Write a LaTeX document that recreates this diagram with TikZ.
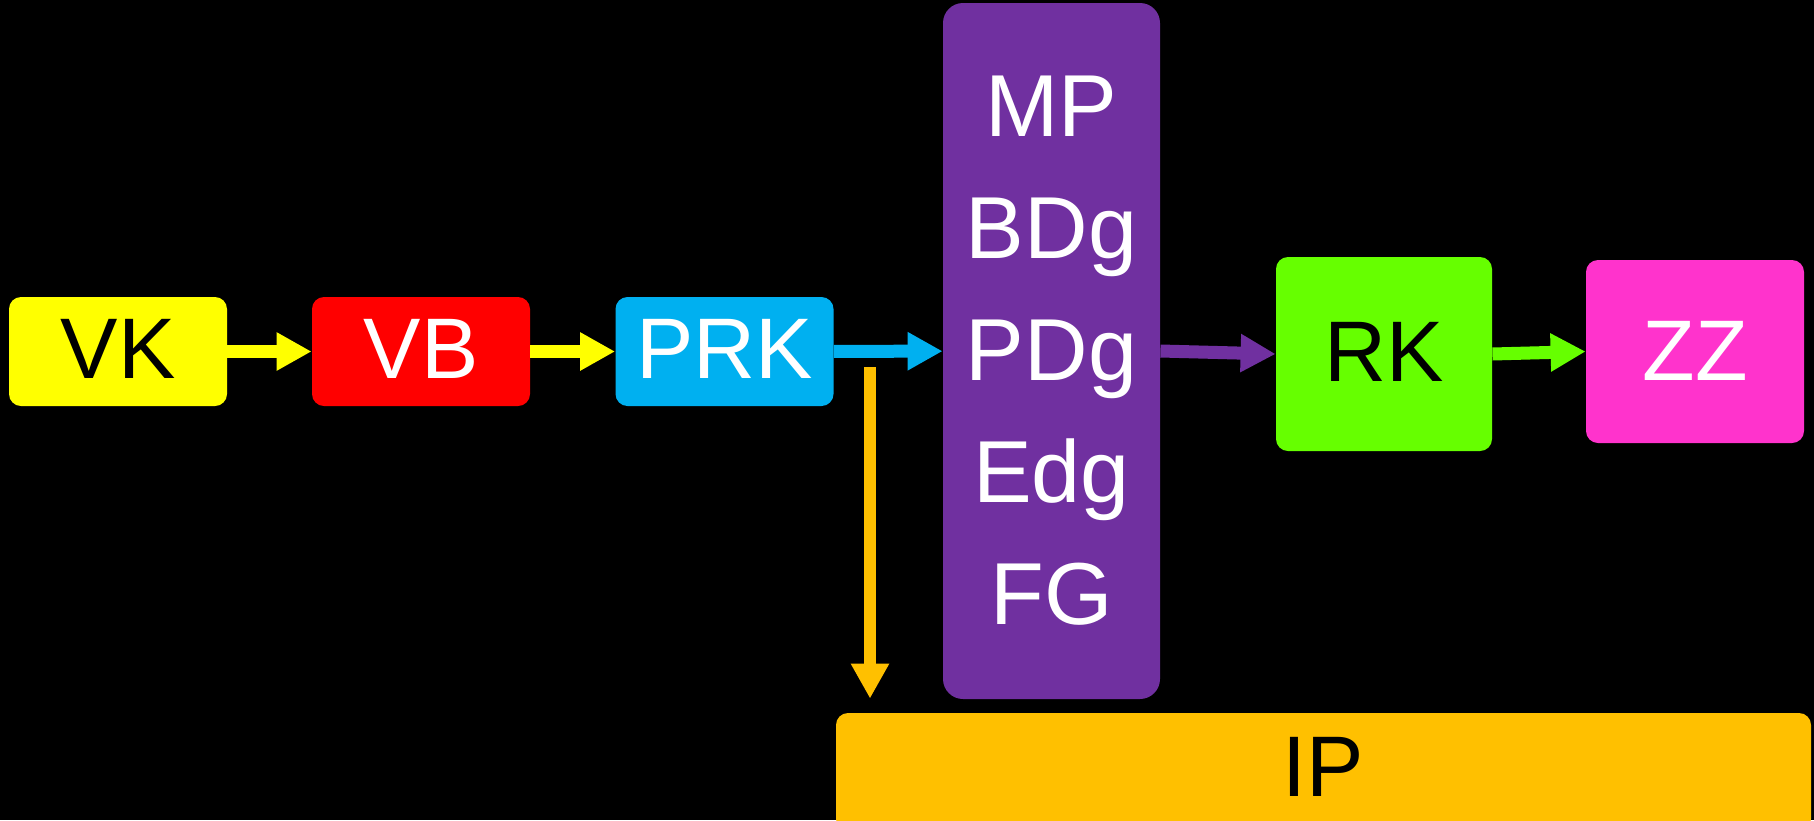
\documentclass[tikz,border=0pt]{standalone}
\usepackage{fontspec}
\setmainfont{Liberation Sans}
\usetikzlibrary{arrows.meta}
\definecolor{cyel}{HTML}{FFFF00}
\definecolor{cred}{HTML}{FF0000}
\definecolor{cblue}{HTML}{00B0F0}
\definecolor{cpurp}{HTML}{7030A0}
\definecolor{cgreen}{HTML}{66FF00}
\definecolor{cpink}{HTML}{FF33CC}
\definecolor{corange}{HTML}{FFC000}
\newcommand{\up}[1]{\raisebox{2.5pt}{#1}}
\begin{document}
\begin{tikzpicture}[x=0.5pt,y=-0.5pt,
  box/.style={rounded corners=6pt, inner sep=0pt, minimum width=109pt, minimum height=54.5pt, font=\fontsize{43}{50}\selectfont},
  arr/.style={line width=6.5pt, -{Triangle[width=18pt,length=17.5pt]}}]
\fill[black] (0,0) rectangle (1814,820);
\useasboundingbox (0,0) rectangle (1814,820);
\begin{scope}
\clip (0,0) rectangle (1814,820);
\node[box, fill=corange, text=black, minimum width=487.5pt, minimum height=59pt] (IP) at (1323.5,772) {\raisebox{5.5pt}{IP}};
\end{scope}
\node[box, fill=cyel, text=black] (VK) at (118,351.5) {\up{VK}};
\node[box, fill=cred, text=white] (VB) at (421,351.5) {\up{VB}};
\node[box, fill=cblue, text=white] (PRK) at (724.5,351.5) {\up{PRK}};
\node[box, fill=cpurp, text=white, rounded corners=10pt, minimum width=108.5pt, minimum height=348pt, align=center, font=\fontsize{44}{61}\selectfont] (MP) at (1051.5,351) {MP\\BDg\\PDg\\Edg\\FG};
\node[box, fill=cgreen, text=black, minimum width=108pt, minimum height=97pt] (RK) at (1384,354) {\up{RK}};
\node[box, fill=cpink, text=white, minimum width=109pt, minimum height=91.5pt] (ZZ) at (1695,351.5) {\raisebox{1pt}{ZZ}};
\coordinate (ds) at (870,367);
\draw[arr, cyel] (VK) -- (VB);
\draw[arr, cyel] (VB) -- (PRK);
\draw[arr, cblue] (PRK) -- (MP);
\draw[arr, cpurp] (MP.east) -- (RK.west);
\draw[arr, cgreen] (RK.east) -- (ZZ.west);
\draw[arr, corange, line width=6pt, shorten >=7pt] (ds) -- (ds |- IP.north);
\end{tikzpicture}
\end{document}
